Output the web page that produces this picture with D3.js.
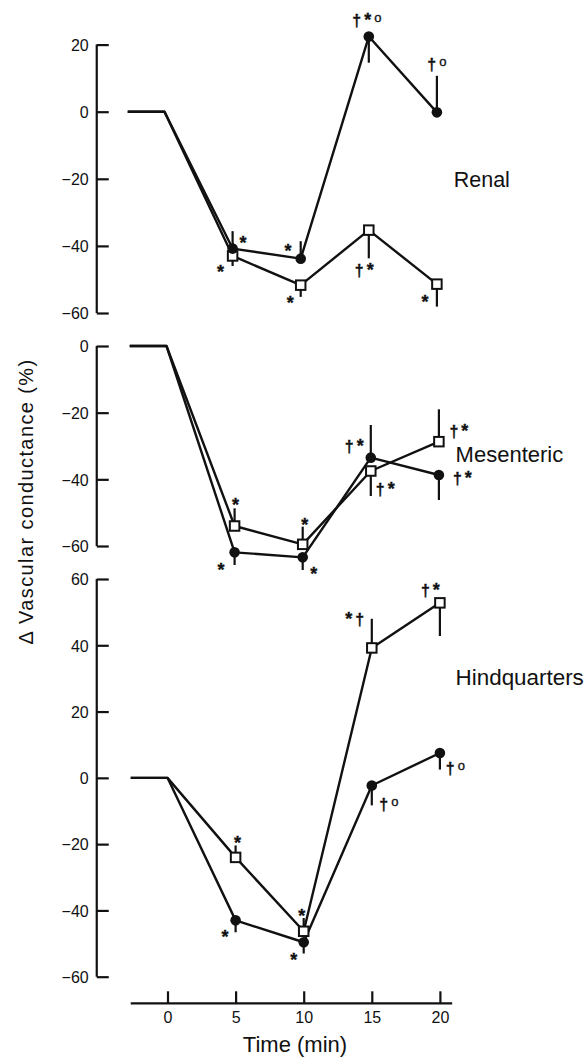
<!DOCTYPE html>
<html>
<head>
<meta charset="utf-8">
<script src="https://cdn.jsdelivr.net/npm/d3@7"></script>
<style>
  html, body { margin: 0; padding: 0; background: #fff; }
  svg { display: block; }
  text { font-family: "Liberation Sans", Arial, Helvetica, sans-serif; fill: #111; }
</style>
</head>
<body>
<svg id="chart" width="588" height="1059"></svg>
<script>
// ---------- DATA ----------
const times = [5, 10, 15, 20];
const baselineTimes = [-2.7, 0];
const xTicks = [0, 5, 10, 15, 20];
const panelNames = ["Renal", "Mesenteric", "Hindquarters"];

const renalFilled = [-40.8, -43.8, 22.4, -0.2];
const renalFilledErr = [5.2, 5.2, 7.8, 10.9];
const renalFilledDir = [1, 1, -1, 1];
const renalOpen = [-43.0, -51.7, -35.3, -51.4];
const renalOpenErr = [3.0, 3.5, 8.4, 6.7];
const renalOpenDir = [-1, -1, -1, -1];
const renalTicks = [20, 0, -20, -40, -60];

const mesFilled = [-61.9, -63.4, -33.5, -38.7];
const mesFilledErr = [3.8, 3.8, 9.8, 7.5];
const mesFilledDir = [-1, -1, 1, -1];
const mesOpen = [-54.0, -59.5, -37.5, -28.7];
const mesOpenErr = [5.3, 5.3, 7.5, 9.7];
const mesOpenDir = [1, 1, -1, 1];
const mesTicks = [0, -20, -40, -60];

const hindFilled = [-43.0, -49.6, -2.3, 7.5];
const hindFilledErr = [3.6, 3.4, 6.0, 5.0];
const hindFilledDir = [-1, -1, -1, -1];
const hindOpen = [-24.0, -46.3, 39.2, 52.8];
const hindOpenErr = [3.6, 4.0, 8.8, 10.0];
const hindOpenDir = [1, 1, 1, -1];
const hindTicks = [60, 40, 20, 0, -20, -40, -60];

// significance marks: [series ("f" filled / "o" open), time index, text]
const renalMarks = [["f",0,"*"],["o",0,"*"],["f",1,"*"],["o",1,"*"],["f",2,"†*o"],["o",2,"†*"],["f",3,"†o"],["o",3,"*"]];
const mesMarks = [["o",0,"*"],["f",0,"*"],["o",1,"*"],["f",1,"*"],["f",2,"†*"],["o",2,"†*"],["o",3,"†*"],["f",3,"†*"]];
const hindMarks = [["o",0,"*"],["f",0,"*"],["o",1,"*"],["f",1,"*"],["o",2,"*†"],["f",2,"†o"],["o",3,"†*"],["f",3,"†o"]];

// ---------- LAYOUT ----------
const svg = d3.select("#chart");
const x = d3.scaleLinear().domain([0, 20]).range([167.5, 439.9]);
const axisX = 96.75;

// pixel offsets of the significance marks, relative to their point
const renalOff = [[10.5,-10],[-12,11.6],[-12.75,-12],[-10.5,13.3],[-2,-15],[-4.6,41],[0,-47],[-12,14]];
const mesOff = [[1,-25],[-13.5,13],[2,-24],[11,12],[-16.5,-10],[14.5,19],[20,-9],[23.5,4]];
const hindOff = [[2,-19],[-10.5,12],[-2,-19],[-10,14],[-17,-28],[17,20],[-9.5,-12],[15.5,16]];

const panels = [
  { name: panelNames[0], domain: [-60, 20], range: [313, 44.6], ticks: renalTicks, shift: -3,
    f: renalFilled, fe: renalFilledErr, fd: renalFilledDir, o: renalOpen, oe: renalOpenErr, od: renalOpenDir,
    marks: renalMarks, off: renalOff, label: [453.7, 187], fs: 21.5 },
  { name: panelNames[1], domain: [-60, 0], range: [546, 346], ticks: mesTicks, shift: -1,
    f: mesFilled, fe: mesFilledErr, fd: mesFilledDir, o: mesOpen, oe: mesOpenErr, od: mesOpenDir,
    marks: mesMarks, off: mesOff, label: [455.6, 462], fs: 22 },
  { name: panelNames[2], domain: [-60, 60], range: [976.7, 579], ticks: hindTicks, shift: 0,
    f: hindFilled, fe: hindFilledErr, fd: hindFilledDir, o: hindOpen, oe: hindOpenErr, od: hindOpenDir,
    marks: hindMarks, off: hindOff, label: [455.6, 685], fs: 22.4 }
];

const fmt = v => v < 0 ? "\u2212" + Math.abs(v) : String(v);

panels.forEach(p => {
  const y = d3.scaleLinear().domain(p.domain).range(p.range);

  // y axis
  const ax = svg.append("g").attr("transform", `translate(${axisX},0)`)
    .call(d3.axisRight(y).tickValues(p.ticks).tickSize(12).tickFormat(""));
  ax.select(".domain").attr("d", `M0,${y(p.domain[1])}V${y(p.domain[0])}`)
    .attr("stroke", "#111").attr("stroke-width", 2.2);
  ax.selectAll(".tick line").attr("stroke", "#111").attr("stroke-width", 2.2);
  ax.selectAll(".tick").append("text")
    .attr("x", -8).attr("dy", "0.36em")
    .attr("text-anchor", "end").attr("font-size", 16)
    .style("fill", "#111")
    .text(d => fmt(d));

  const g = svg.append("g").attr("transform", `translate(${p.shift},0)`);
  const line = d3.line().x(d => x(d[0])).y(d => y(d[1]));
  const base = baselineTimes.map(t => [t, 0]);

  const series = [
    { key: "o", vals: p.o, err: p.oe, dir: p.od },
    { key: "f", vals: p.f, err: p.fe, dir: p.fd }
  ];

  series.forEach(s => {
    const pts = base.concat(times.map((t, i) => [t, s.vals[i]]));
    g.append("path").attr("d", line(pts))
      .attr("fill", "none").attr("stroke", "#111").attr("stroke-width", 2.4)
      .attr("stroke-linejoin", "round");
  });

  series.forEach(s => {
    g.selectAll(null).data(times).enter().append("line")
      .attr("x1", t => x(t)).attr("x2", t => x(t))
      .attr("y1", (t, i) => y(s.vals[i]))
      .attr("y2", (t, i) => y(s.vals[i] + s.dir[i] * s.err[i]))
      .attr("stroke", "#111").attr("stroke-width", 2.2);
  });

  // markers
  const sq = 9.5;
  g.selectAll(null).data(times).enter().append("rect")
    .attr("x", t => x(t) - sq / 2)
    .attr("y", (t, i) => y(p.o[i]) - sq / 2)
    .attr("width", sq).attr("height", sq)
    .attr("fill", "#fff").attr("stroke", "#111").attr("stroke-width", 2);
  g.selectAll(null).data(times).enter().append("circle")
    .attr("cx", t => x(t)).attr("cy", (t, i) => y(p.f[i]))
    .attr("r", 5.3).attr("fill", "#111");

  // significance marks
  p.marks.forEach((m, k) => {
    const vals = m[0] === "f" ? p.f : p.o;
    const px = x(times[m[1]]) + p.off[k][0];
    const py = y(vals[m[1]]) + p.off[k][1];
    const hasDagger = m[2].indexOf("†") >= 0;
    const t = g.append("text")
      .attr("x", px).attr("y", py + (hasDagger ? 4.8 : 10.2))
      .attr("text-anchor", "middle").attr("font-size", 16)
      .attr("stroke", "#111").attr("stroke-width", 0.35);
    m[2].split("").forEach((ch, j) => {
      const ts = t.append("tspan");
      if (j > 0) ts.attr("dx", 3);
      if (ch === "*") {
        ts.attr("font-size", 18).attr("font-weight", "bold").text("*");
      } else if (ch === "o") {
        ts.attr("font-size", 13).attr("dy", -4).text("o");
      } else {
        ts.attr("font-weight", "bold").text(ch);
      }
    });
  });

  // panel label
  svg.append("text").attr("x", p.label[0]).attr("y", p.label[1])
    .attr("font-size", p.fs).text(p.name);
});

// x axis (bottom only)
const xa = svg.append("g").attr("transform", "translate(0,1003.3)")
  .call(d3.axisTop(x).tickValues(xTicks).tickSize(12).tickFormat(""));
xa.select(".domain").attr("d", `M${x(-2.7)},0H${x(20.9)}`)
  .attr("stroke", "#111").attr("stroke-width", 2.2);
xa.selectAll(".tick line").attr("stroke", "#111").attr("stroke-width", 2.2);
xa.selectAll(".tick").append("text")
  .attr("y", 20).attr("text-anchor", "middle").attr("font-size", 16)
  .style("fill", "#111").text(d => d);

svg.append("text").attr("x", 295).attr("y", 1051.5)
  .attr("text-anchor", "middle").attr("font-size", 22).text("Time (min)");

svg.append("text")
  .attr("transform", "translate(33,501.5) rotate(-90)")
  .attr("text-anchor", "middle").attr("font-size", 20)
  .attr("letter-spacing", 1.4)
  .text("\u0394 Vascular conductance (%)");
</script>
</body>
</html>
